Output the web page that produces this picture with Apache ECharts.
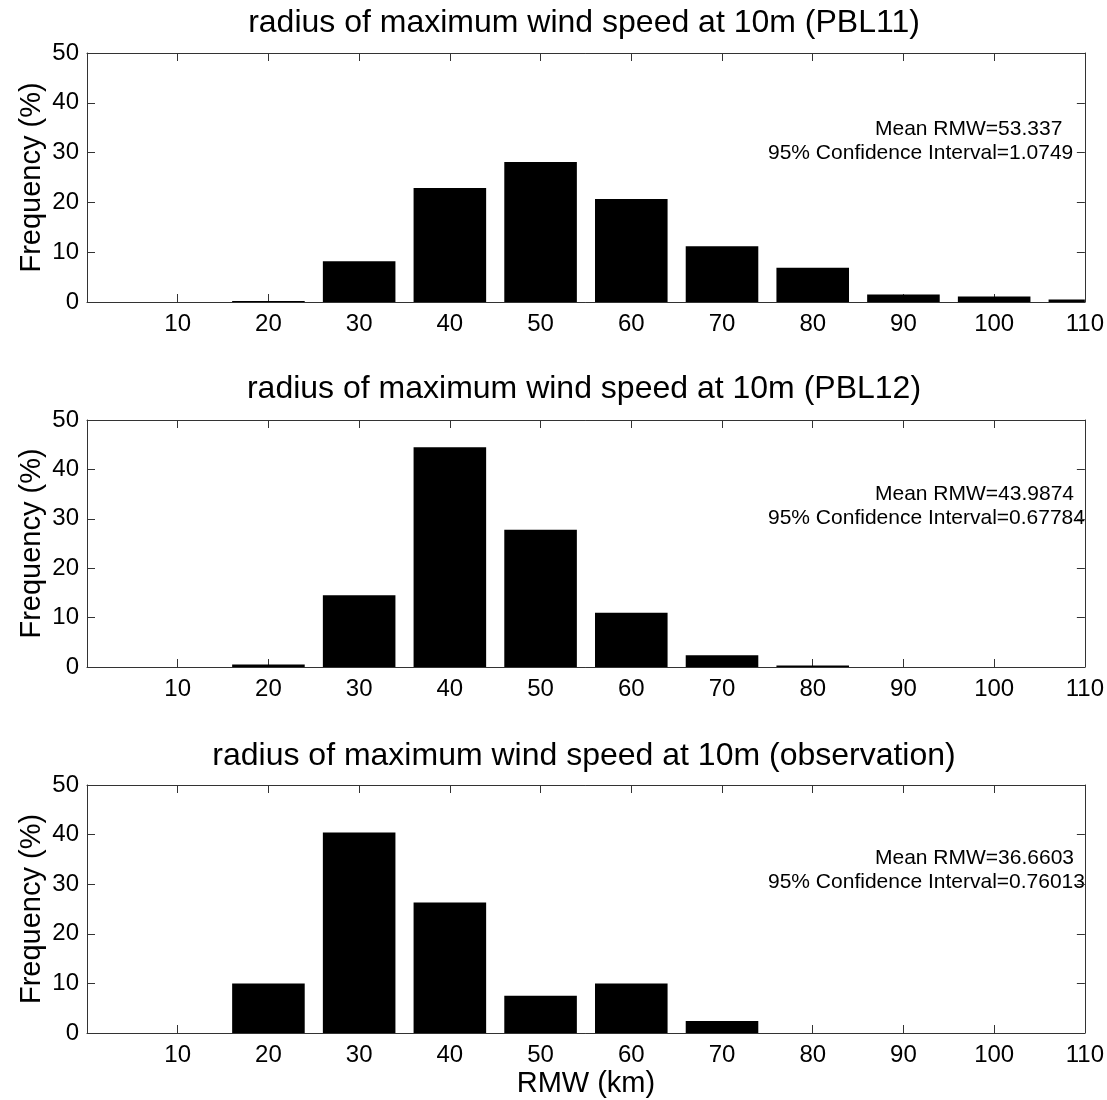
<!DOCTYPE html>
<html>
<head>
<meta charset="utf-8">
<title>Radius of maximum wind speed at 10m</title>
<script src="https://cdn.jsdelivr.net/npm/echarts@6/dist/echarts.min.js"></script>
<style>
  html, body { margin: 0; padding: 0; background: #fff; }
  #chart { width: 1107px; height: 1100px; }
</style>
</head>
<body>
<div id="chart"></div>
<script>
// Histogram bins (bin centres, km) and relative frequencies (%)
const binCenters = [10, 20, 30, 40, 50, 60, 70, 80, 90, 100, 110];
const freqPBL11 = [0, 0.2, 8.2, 22.9, 28.1, 20.7, 11.2, 6.9, 1.5, 1.1, 0.5];
const freqPBL12 = [0, 0.5, 14.5, 44.5, 27.8, 11.0, 2.4, 0.3, 0, 0, 0];
const freqObs   = [0, 10.0, 40.4, 26.3, 7.5, 10.0, 2.4, 0, 0, 0, 0];

const panelTitles = [
  'radius of maximum wind speed at 10m (PBL11)',
  'radius of maximum wind speed at 10m (PBL12)',
  'radius of maximum wind speed at 10m (observation)'
];
const meanLines = ['Mean RMW=53.337', 'Mean RMW=43.9874', 'Mean RMW=36.6603'];
const ciLines = [
  '95% Confidence Interval=1.0749',
  '95% Confidence Interval=0.67784',
  '95% Confidence Interval=0.76013'
];
const xTickLabels = [10, 20, 30, 40, 50, 60, 70, 80, 90, 100, 110];
const yTickLabels = [0, 10, 20, 30, 40, 50];

const panelData = [freqPBL11, freqPBL12, freqObs];
const BIN_WIDTH = 10;
const BAR_FRACTION = 0.8;
const FONT = '"Liberation Sans", Arial, Helvetica, sans-serif';
const AXIS_COLOR = '#333';

const grids = [
  { left: 87, right: 22, top: 53, height: 249 },
  { left: 87, right: 22, top: 420, height: 247 },
  { left: 87, right: 22, top: 785, height: 248 }
];
const titleTops = [7, 373, 740];
const noteY = [[129, 153], [494, 518], [858, 882]];

const chart = echarts.init(document.getElementById('chart'), null, { renderer: 'canvas' });

const xAxes = [];
const yAxes = [];
const series = [];
const titles = [];
const notes = [];

grids.forEach((g, i) => {
  const tick = { show: true, inside: true, length: 8, lineStyle: { color: AXIS_COLOR, width: 1 } };
  const line = { show: true, onZero: false, lineStyle: { color: AXIS_COLOR, width: 1 } };
  xAxes.push({
    type: 'value', gridIndex: i, position: 'bottom',
    min: 0, max: 110, interval: 10,
    axisLine: line, axisTick: tick, splitLine: { show: false },
    axisLabel: {
      margin: 10, color: '#000', fontFamily: FONT, fontSize: 24,
      formatter: v => (xTickLabels.indexOf(v) >= 0 ? String(v) : '')
    },
    name: i === 2 ? 'RMW (km)' : '',
    nameLocation: 'middle', nameGap: 36, nameMoveOverlap: false,
    nameTextStyle: { color: '#000', fontFamily: FONT, fontSize: 29 }
  });
  xAxes.push({
    type: 'value', gridIndex: i, position: 'top',
    min: 0, max: 110, interval: 10,
    axisLine: line, axisTick: tick, axisLabel: { show: false }, splitLine: { show: false }
  });
  yAxes.push({
    type: 'value', gridIndex: i, position: 'left',
    min: 0, max: 50, interval: 10,
    axisLine: line, axisTick: tick, splitLine: { show: false },
    axisLabel: {
      margin: 8, color: '#000', fontFamily: FONT, fontSize: 24,
      formatter: v => (yTickLabels.indexOf(v) >= 0 ? String(v) : '')
    },
    name: 'Frequency (%)', nameLocation: 'middle', nameGap: 41, nameRotate: 90,
    nameMoveOverlap: false,
    nameTextStyle: { color: '#000', fontFamily: FONT, fontSize: 29 }
  });
  yAxes.push({
    type: 'value', gridIndex: i, position: 'right',
    min: 0, max: 50, interval: 10,
    axisLine: line, axisTick: tick, axisLabel: { show: false }, splitLine: { show: false }
  });

  series.push({
    type: 'custom',
    xAxisIndex: i * 2,
    yAxisIndex: i * 2,
    data: binCenters.map((c, k) => [c, panelData[i][k]]),
    renderItem: (params, api) => {
      const c = api.value(0);
      const v = api.value(1);
      const half = BIN_WIDTH * BAR_FRACTION / 2;
      const p0 = api.coord([c - half, v]);
      const p1 = api.coord([c + half, 0]);
      const cs = params.coordSys;
      const shape = echarts.graphic.clipRectByRect(
        { x: p0[0], y: p0[1], width: p1[0] - p0[0], height: p1[1] - p0[1] },
        { x: cs.x, y: cs.y, width: cs.width, height: cs.height }
      );
      return shape && { type: 'rect', shape: shape, style: { fill: '#000' } };
    }
  });

  titles.push({
    text: panelTitles[i],
    left: 584, top: titleTops[i], textAlign: 'center', padding: 0,
    textStyle: { color: '#000', fontFamily: FONT, fontSize: 32, fontWeight: 'normal' }
  });

  notes.push(
    { type: 'text', x: 875, y: noteY[i][0],
      style: { text: meanLines[i], fill: '#000', font: '21px ' + FONT, textVerticalAlign: 'middle' } },
    { type: 'text', x: 768, y: noteY[i][1],
      style: { text: ciLines[i], fill: '#000', font: '21px ' + FONT, textVerticalAlign: 'middle' } }
  );
});

chart.setOption({
  backgroundColor: '#fff',
  animation: false,
  title: titles,
  grid: grids,
  xAxis: xAxes,
  yAxis: yAxes,
  series: series,
  graphic: notes
});
</script>
</body>
</html>
